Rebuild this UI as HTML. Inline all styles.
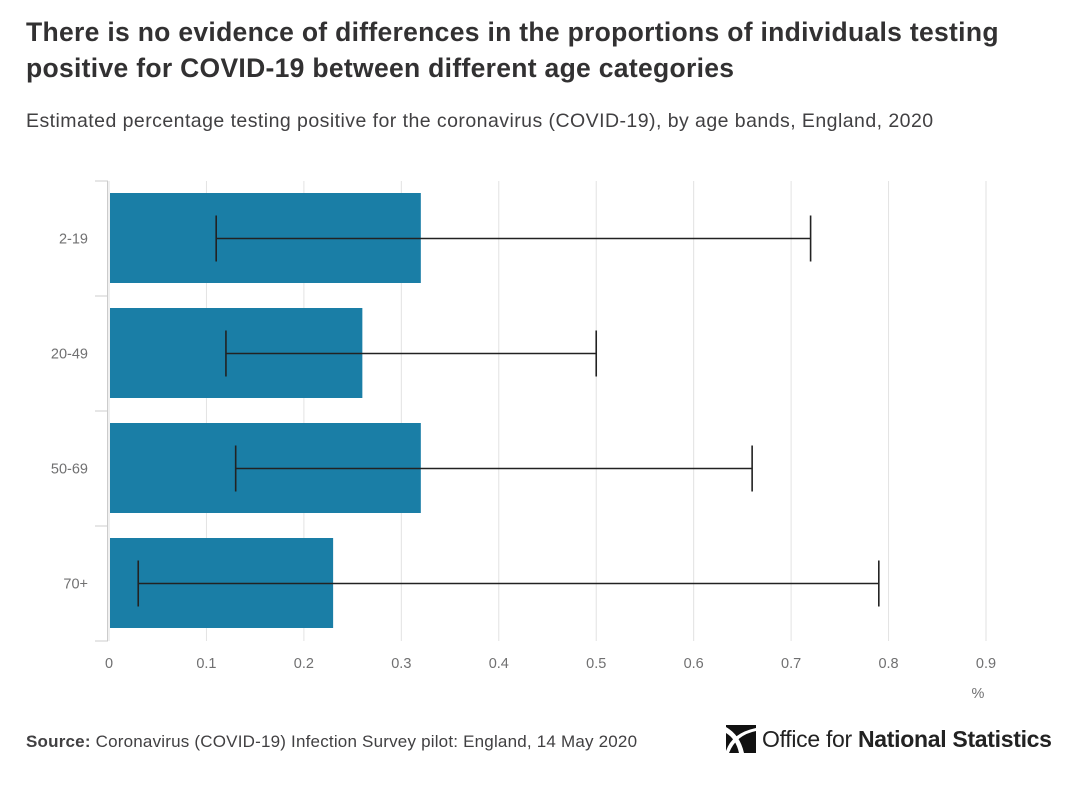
<!DOCTYPE html>
<html><head><meta charset="utf-8"><style>
body{margin:0;background:#fff;width:1073px;height:785px;overflow:hidden;font-family:"Liberation Sans",sans-serif;}
h1{position:absolute;left:26px;top:14px;margin:0;font-size:26.5px;line-height:36px;font-weight:bold;color:#323132;width:990px;letter-spacing:0.3px}
.sub{position:absolute;left:26px;top:110px;font-size:19.5px;color:#414042;letter-spacing:0.45px;white-space:nowrap}
.src{position:absolute;left:26px;top:732px;font-size:17px;color:#414042;letter-spacing:0.2px;white-space:nowrap}
.logo{position:absolute;left:726px;top:725px;font-size:23px;color:#222;display:flex;align-items:center;gap:6px;letter-spacing:-0.3px}
</style></head><body>
<h1>There is no evidence of differences in the proportions of individuals testing positive for COVID-19 between different age categories</h1>
<div class="sub">Estimated percentage testing positive for the coronavirus (COVID-19), by age bands, England, 2020</div>
<svg id="chart" width="1073" height="785" style="position:absolute;left:0;top:0"></svg>
<div class="src"><b>Source:</b> Coronavirus (COVID-19) Infection Survey pilot: England, 14 May 2020</div>
<div class="logo"><svg width="30" height="28" viewBox="0 0 30 28"><path d="M0 0H30V28H0Z" fill="#111"/><path d="M0 2Q14 10 18 28H13Q10 14 0 8Z" fill="#fff"/><path d="M0 26Q6 8 30 3V6Q10 10 3 28H0Z" fill="#fff"/></svg><span>Office for <b>National Statistics</b></span></div>
<script>
const categories=["2-19","20-49","50-69","70+"];
const values=[0.32,0.26,0.32,0.23];
const lower=[0.11,0.12,0.13,0.03];
const upper=[0.72,0.50,0.66,0.79];
const ticks=[0,0.1,0.2,0.3,0.4,0.5,0.6,0.7,0.8,0.9];
const NS="http://www.w3.org/2000/svg";
const svg=document.getElementById('chart');
const x0=109,x1=986,xmax=0.9,yTop=181,band=115,pad=12;
const xs=v=>x0+(x1-x0)*v/xmax;
function mk(t,a){const e=document.createElementNS(NS,t);for(const k in a)e.setAttribute(k,a[k]);svg.appendChild(e);return e;}
ticks.forEach(t=>{
 const g=mk('line',{x1:xs(t),x2:xs(t),y1:yTop,y2:yTop+band*categories.length,stroke:'#e2e2e2','stroke-width':1});
 
 
 const l=mk('text',{x:xs(t),y:668,'text-anchor':'middle','font-size':14.5,fill:'#707071'});
 l.textContent=t;
 
 
});
const u=mk('text',{x:978,y:698,'text-anchor':'middle','font-size':14.5,fill:'#707071'});u.textContent='%';


const ax=mk('line',{x1:107.5,x2:107.5,y1:yTop,y2:yTop+band*categories.length,stroke:'#ccc'});


for(let i=0;i<=categories.length;i++){const tk=mk('line',{x1:95,x2:108,y1:yTop+band*i,y2:yTop+band*i,stroke:'#ccc'});
 
 }
categories.forEach((c,i)=>{
 const y=yTop+band*i, cy=y+band/2;
 const b=mk('rect',{x:xs(0)+1,y:y+pad,width:xs(values[i])-xs(0)-1,height:band-2*pad-1,fill:'#1a7ea6'});
 
 
 const l=mk('text',{x:88,y:cy+5,'text-anchor':'end','font-size':14.5,fill:'#707071'});l.textContent=c;
 
 
 const e=mk('path',{d:`M${xs(lower[i])} ${cy-23}V${cy+23}M${xs(lower[i])} ${cy}H${xs(upper[i])}M${xs(upper[i])} ${cy-23}V${cy+23}`,stroke:'#222','stroke-width':1.6,fill:'none'});
 
 
});
</script>
</body></html>
